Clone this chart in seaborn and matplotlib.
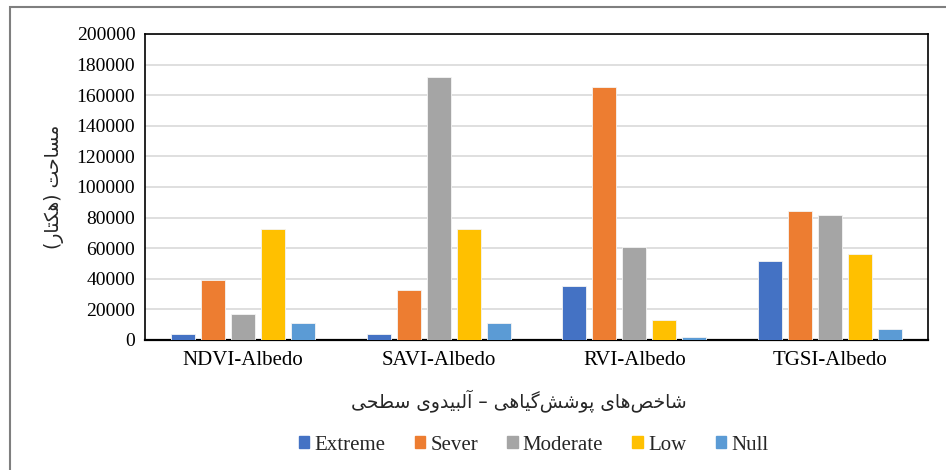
import pandas as pd
import matplotlib
matplotlib.use('Agg')
import matplotlib.pyplot as plt
import matplotlib.patches as mpatches
import seaborn as sns

# داده‌ها
indices = ['NDVI-Albedo', 'SAVI-Albedo', 'RVI-Albedo', 'TGSI-Albedo']
classes = ['Extreme', 'Sever', 'Moderate', 'Low', 'Null']
extreme = [4000, 4000, 35500, 51500]
sever = [39000, 32500, 165500, 84000]
moderate = [17000, 172000, 60500, 82000]
low = [72500, 72500, 13000, 56500]
null = [11000, 11000, 1800, 7000]
colors = ['#4472C4', '#ED7D31', '#A5A5A5', '#FFC000', '#5B9BD5']

y_label = 'مساحت (هکتار)'
x_label = 'شاخص\u200cهای پوشش\u200cگیاهی – آلبیدوی سطحی'

# شکل‌دهی ساده حروف فارسی (matplotlib خودش این کار را نمی‌کند)
# (isolated, final, initial, medial)
FORMS = {
    'ا': (0xFE8D, 0xFE8E, None, None),
    'آ': (0xFE81, 0xFE82, None, None),
    'ب': (0xFE8F, 0xFE90, 0xFE91, 0xFE92),
    'ت': (0xFE95, 0xFE96, 0xFE97, 0xFE98),
    'ح': (0xFEA1, 0xFEA2, 0xFEA3, 0xFEA4),
    'خ': (0xFEA5, 0xFEA6, 0xFEA7, 0xFEA8),
    'د': (0xFEA9, 0xFEAA, None, None),
    'ر': (0xFEAD, 0xFEAE, None, None),
    'س': (0xFEB1, 0xFEB2, 0xFEB3, 0xFEB4),
    'ش': (0xFEB5, 0xFEB6, 0xFEB7, 0xFEB8),
    'ص': (0xFEB9, 0xFEBA, 0xFEBB, 0xFEBC),
    'ط': (0xFEC1, 0xFEC2, 0xFEC3, 0xFEC4),
    'ل': (0xFEDD, 0xFEDE, 0xFEDF, 0xFEE0),
    'م': (0xFEE1, 0xFEE2, 0xFEE3, 0xFEE4),
    'ه': (0xFEE9, 0xFEEA, 0xFEEB, 0xFEEC),
    'و': (0xFEED, 0xFEEE, None, None),
    'پ': (0xFB56, 0xFB57, 0xFB58, 0xFB59),
    'ک': (0xFB8E, 0xFB8F, 0xFB90, 0xFB91),
    'گ': (0xFB92, 0xFB93, 0xFB94, 0xFB95),
    'ی': (0xFBFC, 0xFBFD, 0xFBFE, 0xFBFF),
}
MIRROR = {'(': ')', ')': '('}


def shape(text):
    out = []
    for i, ch in enumerate(text):
        if ch not in FORMS:
            if ch != '\u200c':
                out.append(MIRROR.get(ch, ch))
            continue
        prev = text[i - 1] if i > 0 else ''
        nxt = text[i + 1] if i + 1 < len(text) else ''
        join_prev = prev in FORMS and FORMS[prev][2] is not None
        join_next = FORMS[ch][2] is not None and nxt in FORMS
        iso, fin, ini, med = FORMS[ch]
        if join_prev and join_next:
            code = med
        elif join_prev:
            code = fin
        elif join_next:
            code = ini
        else:
            code = iso
        out.append(chr(code))
    return ''.join(reversed(out))


df = pd.DataFrame({'index': indices, 'Extreme': extreme, 'Sever': sever,
                   'Moderate': moderate, 'Low': low, 'Null': null})
long_df = df.melt(id_vars='index', var_name='class', value_name='area')

sns.set_style('white')
plt.rcParams['font.family'] = ['Liberation Serif', 'DejaVu Sans']

fig = plt.figure(figsize=(9.46, 4.70), dpi=100)
ax = fig.add_axes([0.1533, 0.2766, 0.8277, 0.6511])

sns.barplot(data=long_df, x='index', y='area', hue='class', hue_order=classes,
            palette=colors, saturation=1, width=0.766, gap=0.2, ax=ax, legend=False,
            edgecolor='#f4f4f4', linewidth=0.6, zorder=3)

ax.set_ylim(0, 200000)
ax.set_yticks(range(0, 200001, 20000))
ax.yaxis.grid(True, color='#d9d9d9', linewidth=1.2, zorder=0)
ax.set_axisbelow(True)
ax.tick_params(axis='both', length=0, colors='black')
ax.tick_params(axis='y', labelsize=14, pad=7)
ax.tick_params(axis='x', labelsize=15, pad=8)
for s in ax.spines.values():
    s.set_visible(True)
    s.set_color('black')
    s.set_linewidth(1.2)
ax.spines['bottom'].set_linewidth(1.6)

ax.set_xlabel(shape(x_label), fontsize=13.5, family=['DejaVu Sans'])
ax.xaxis.set_label_coords(0.478, -0.16)
ax.set_ylabel(shape(y_label), fontsize=13.5, family=['DejaVu Sans'], labelpad=9)

handles = [mpatches.Patch(color=c, label=n) for c, n in zip(colors, classes)]
fig.legend(handles=handles, loc='center', bbox_to_anchor=(0.564, 0.053), ncol=5,
           frameon=False, fontsize=15, handlelength=0.5, handleheight=0.5,
           handletextpad=0.25, columnspacing=1.4)

# قاب بیرونی
fig.add_artist(mpatches.Rectangle((10 / 946, -0.5), 1.2, 1.5 - 7 / 470, transform=fig.transFigure,
                                  fill=False, edgecolor='#7f7f7f', linewidth=1.5, clip_on=False))

fig.savefig('out.png', dpi=100)
